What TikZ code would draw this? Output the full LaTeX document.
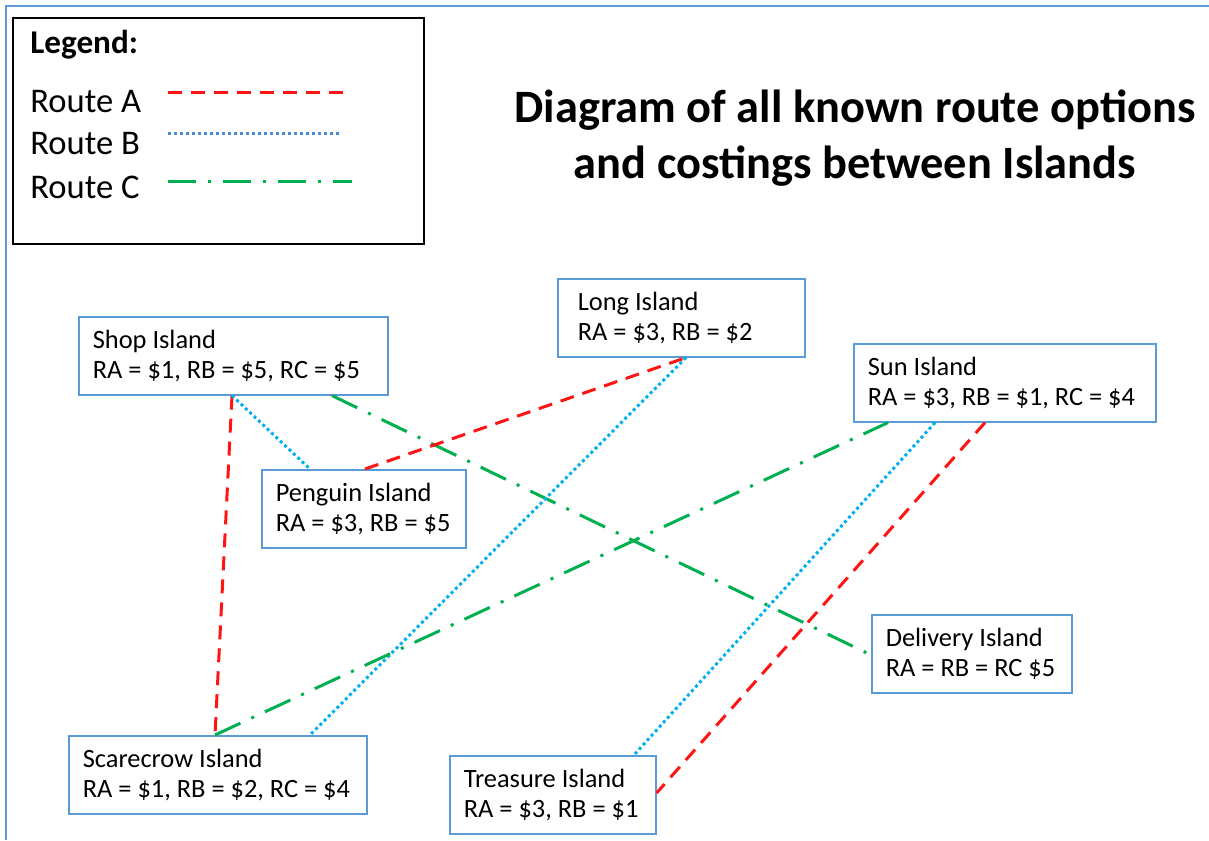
\documentclass[tikz,border=0pt]{standalone}
\usepackage{fontspec}
\setmainfont{Carlito}
\usepackage{tikz}

\definecolor{boxblue}{RGB}{91,155,213}
\definecolor{ra}{RGB}{255,20,20}
\definecolor{rb}{RGB}{0,176,240}
\definecolor{rblegend}{RGB}{70,140,215}
\definecolor{rc}{RGB}{0,176,80}

\tikzset{
  island/.style={draw=boxblue, line width=0.8pt, anchor=north west, align=flush left,
    inner xsep=7pt, minimum height=39pt, font=\fontsize{13.2}{15}\selectfont},
  routeA/.style={ra, line width=1.5pt, dash pattern=on 7pt off 4.5pt},
  routeB/.style={rb, line width=1.5pt, dash pattern=on 1.5pt off 1.5pt},
  routeC/.style={rc, line width=1.5pt, dash pattern=on 14pt off 6pt on 1.5pt off 6pt},
  legtext/.style={anchor=west, inner sep=0pt, font=\fontsize{17.3}{20}\selectfont}
}

\begin{document}
\begin{tikzpicture}[x=0.5pt,y=-0.5pt]
            \useasboundingbox (0,0) rectangle (1209,840);
            \fill[white] (0,0) rectangle (1209,840);
            \draw[boxblue, line width=1pt] (1209,6) -- (6,6) -- (6,840);

            % legend
            \node[draw, line width=1pt, anchor=north west, minimum width=205.5pt, minimum height=113pt] (legend) at (12,17) {};
            \node[legtext, font=\fontsize{16.6}{20}\selectfont\bfseries] (legtitle) at (30,45) {Legend:};
            \node[legtext] (lega) at (30,102) {Route A};
            \node[legtext] (legb) at (30,144) {Route B};
            \node[legtext] (legc) at (30,187) {Route C};
            \coordinate (la1) at (168,93);  \coordinate (la2) at (343,93);
            \coordinate (lb1) at (168,133); \coordinate (lb2) at (340,133);
            \coordinate (lc1) at (168,181); \coordinate (lc2) at (352,181);
            \draw[routeA] (la1) -- (la2);
            \draw[routeB, rblegend] (lb1) -- (lb2);
            \draw[routeC] (lc1) -- (lc2);

            % title
            \node[align=center, font=\fontsize{23.2}{28}\selectfont\bfseries] (title) at (855,138)
              {Diagram of all known route options\\and costings between Islands};

            % islands
            \node[island, text width=140.5pt] (shop) at (78,316) {Shop Island\\RA = \$1, RB = \$5, RC = \$5};
            \node[island, text width=88pt] (penguin) at (261,469) {Penguin Island\\RA = \$3, RB = \$5};
            \node[island, text width=103.5pt, inner xsep=10pt] (long) at (557,278) {Long Island\\RA = \$3, RB = \$2};
            \node[island, text width=137pt] (sun) at (853,343) {Sun Island\\RA = \$3, RB = \$1, RC = \$4};
            \node[island, text width=86pt] (delivery) at (871,614) {Delivery Island\\RA = RB = RC \$5};
            \node[island, text width=135pt] (scarecrow) at (68,735) {Scarecrow Island\\RA = \$1, RB = \$2, RC = \$4};
            \node[island, text width=89pt] (treasure) at (449,755) {Treasure Island\\RA = \$3, RB = \$1};

            % routes
            \draw[routeA] ([xshift=77pt]shop.south west) -- ([xshift=73.5pt]scarecrow.north west);
            \draw[routeB] ([xshift=77pt]shop.south west) -- ([xshift=24.5pt]penguin.north west);
            \draw[routeC] ([xshift=127pt]shop.south west) -- ([yshift=-20.5pt]delivery.north west);
            \draw[routeA] ([xshift=52pt]penguin.north west) -- ([xshift=64.5pt]long.south west);
            \draw[routeB] ([xshift=64.5pt]long.south west) -- ([xshift=121pt]scarecrow.north west);
            \draw[routeC] ([xshift=73.5pt]scarecrow.north west) -- ([xshift=17.5pt]sun.south west);
            \draw[routeB] ([xshift=41pt]sun.south west) -- ([xshift=92.5pt]treasure.north west);
            \draw[routeA] ([xshift=66pt]sun.south west) -- ([yshift=-19pt]treasure.north east);
        \end{tikzpicture}
\end{document}
